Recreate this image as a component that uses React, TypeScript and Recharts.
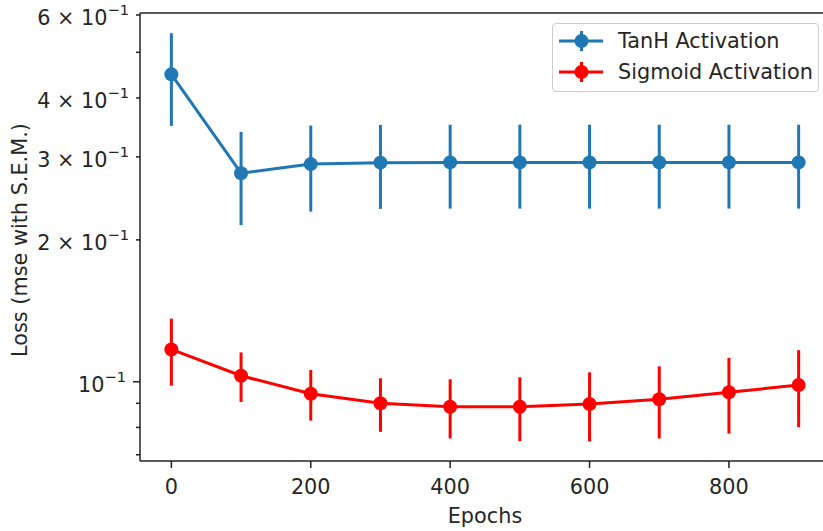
import React from "react";
import { LineChart, Line, XAxis, YAxis, ErrorBar, Legend, Label, ReferenceLine } from "recharts";

const epochs = [0, 100, 200, 300, 400, 500, 600, 700, 800, 900];
const tanhLoss = [0.449, 0.277, 0.2896, 0.2917, 0.292, 0.292, 0.292, 0.292, 0.292, 0.292];
const tanhSem = [0.1, 0.062, 0.06, 0.059, 0.059, 0.059, 0.059, 0.059, 0.059, 0.059];
const sigmoidLoss = [0.1171, 0.103, 0.0943, 0.09, 0.0885, 0.0885, 0.0897, 0.0918, 0.095, 0.0984];
const sigmoidSem = [0.019, 0.0124, 0.0116, 0.0117, 0.0127, 0.0137, 0.015, 0.016, 0.0174, 0.0183];

const seriesNames = ["TanH Activation", "Sigmoid Activation"];
const seriesColors = ["#1f77b4", "#ff0000"];

const xTicks = [0, 200, 400, 600, 800];
const xDomain = [-45, 945];
const yDomain = [0.0679, 0.6059];
const yTicks = [0.07, 0.08, 0.09, 0.1, 0.2, 0.3, 0.4, 0.5, 0.6];
const yTickCoefficients = ["", "", "", "1", "2", "3", "4", "", "6"];
const yMajorTicks = [0.1];
const yExponent = "\u22121";

const xLabel = "Epochs";
const yLabel = "Loss (mse with S.E.M.)";

const data = epochs.map((e, i) => ({
  epoch: e,
  tanh: tanhLoss[i],
  tanhErr: tanhSem[i],
  sigmoid: sigmoidLoss[i],
  sigmoidErr: sigmoidSem[i],
}));

const FONT = '"DejaVu Sans", sans-serif';
const FS = 20.8;
const AXIS = "#222";
const TEXT = "#262626";

const YTick = (props: any) => {
  const { x, y, payload } = props;
  const v = payload.value;
  const idx = yTicks.findIndex((t) => Math.abs(t - v) < 1e-9);
  const coef = idx >= 0 ? yTickCoefficients[idx] : "";
  const major = yMajorTicks.some((t) => Math.abs(t - v) < 1e-9);
  const len = major ? 7 : 4;
  return (
    <g>
      <line x1={x} x2={x - len} y1={y} y2={y} stroke={AXIS} strokeWidth={1.5} />
      {coef !== "" && (
        <text
          x={x - len - 7}
          y={y + 9.9}
          textAnchor="end"
          fontFamily={FONT}
          fontSize={FS}
          fill={TEXT}
        >
          {coef === "1" ? "10" : `${coef} \u00d7 10`}
          <tspan dy={-9.5} fontSize={14.6}>
            {yExponent}
          </tspan>
        </text>
      )}
    </g>
  );
};

const XTick = (props: any) => {
  const { x, y, payload } = props;
  return (
    <text x={x} y={y} textAnchor="middle" fontFamily={FONT} fontSize={FS} fill={TEXT}>
      {payload.value}
    </text>
  );
};

const LegendContent = () => {
  const rows = seriesNames.map((name, i) => ({ name, color: seriesColors[i], cy: 18 + i * 31 }));
  return (
    <div
      style={{
        width: 267,
        height: 69,
        boxSizing: "border-box",
        border: "1px solid #cccccc",
        borderRadius: 4,
        background: "rgba(255,255,255,0.8)",
        position: "relative",
      }}
    >
      <svg width={267} height={69} style={{ position: "absolute", left: -1, top: -1 }}>
        {rows.map((r) => (
          <g key={r.name}>
            <line x1={7} x2={51} y1={r.cy} y2={r.cy} stroke={r.color} strokeWidth={3} />
            <line x1={29.5} x2={29.5} y1={r.cy - 10} y2={r.cy + 10} stroke={r.color} strokeWidth={3} />
            <circle cx={29.5} cy={r.cy} r={7} fill={r.color} />
            <text x={66} y={r.cy + 7} fontFamily={FONT} fontSize={FS} fill={TEXT}>
              {r.name}
            </text>
          </g>
        ))}
      </svg>
    </div>
  );
};

export default function App() {
  return (
    <div
      style={{
        position: "absolute",
        left: 0,
        top: 0,
        width: 823,
        height: 531,
        overflow: "hidden",
        background: "#fff",
      }}
    >
      <LineChart
        width={830}
        height={531}
        data={data}
        margin={{ top: 13, right: 0, bottom: 0, left: 0 }}
        style={{ fontFamily: FONT }}
      >
        <XAxis
          dataKey="epoch"
          type="number"
          domain={xDomain}
          allowDataOverflow
          ticks={xTicks}
          interval={0}
          height={70}
          tickSize={7}
          tickMargin={26}
          tickLine={{ stroke: AXIS, strokeWidth: 1.5 }}
          axisLine={{ stroke: AXIS, strokeWidth: 1.5 }}
          tick={<XTick />}
        >
          <Label
            content={(p: any) => {
              const vb = p.viewBox;
              return (
                <text
                  x={vb.x + vb.width / 2}
                  y={vb.y + 62}
                  textAnchor="middle"
                  fontFamily={FONT}
                  fontSize={FS}
                  fill={TEXT}
                >
                  {xLabel}
                </text>
              );
            }}
          />
        </XAxis>
        <YAxis
          type="number"
          scale="log"
          domain={yDomain}
          allowDataOverflow
          ticks={yTicks}
          interval={0}
          width={140}
          tickSize={0}
          tickMargin={0}
          tickLine={false}
          axisLine={{ stroke: AXIS, strokeWidth: 1.5 }}
          tick={<YTick />}
        >
          <Label
            content={(p: any) => {
              const vb = p.viewBox;
              const cx = vb.x + 27;
              const cy = vb.y + vb.height / 2 + 3;
              return (
                <text
                  x={cx}
                  y={cy}
                  transform={`rotate(-90 ${cx} ${cy})`}
                  textAnchor="middle"
                  fontFamily={FONT}
                  fontSize={FS}
                  fill={TEXT}
                >
                  {yLabel}
                </text>
              );
            }}
          />
        </YAxis>
        <ReferenceLine y={yDomain[1]} stroke={AXIS} strokeWidth={1.5} ifOverflow="visible" />
        <Legend
          layout="vertical"
          align="center"
          verticalAlign="middle"
          content={<LegendContent />}
          wrapperStyle={{ left: 552, top: 23, width: 267, height: 69 }}
        />
        <Line
          dataKey="tanh"
          name={seriesNames[0]}
          type="linear"
          stroke={seriesColors[0]}
          strokeWidth={3}
          dot={{ r: 7, fill: seriesColors[0], stroke: seriesColors[0], strokeWidth: 0 }}
          activeDot={false}
          isAnimationActive={false}
        >
          <ErrorBar dataKey="tanhErr" width={0} stroke={seriesColors[0]} strokeWidth={3} isAnimationActive={false} />
        </Line>
        <Line
          dataKey="sigmoid"
          name={seriesNames[1]}
          type="linear"
          stroke={seriesColors[1]}
          strokeWidth={3}
          dot={{ r: 7, fill: seriesColors[1], stroke: seriesColors[1], strokeWidth: 0 }}
          activeDot={false}
          isAnimationActive={false}
        >
          <ErrorBar dataKey="sigmoidErr" width={0} stroke={seriesColors[1]} strokeWidth={3} isAnimationActive={false} />
        </Line>
      </LineChart>
    </div>
  );
}
